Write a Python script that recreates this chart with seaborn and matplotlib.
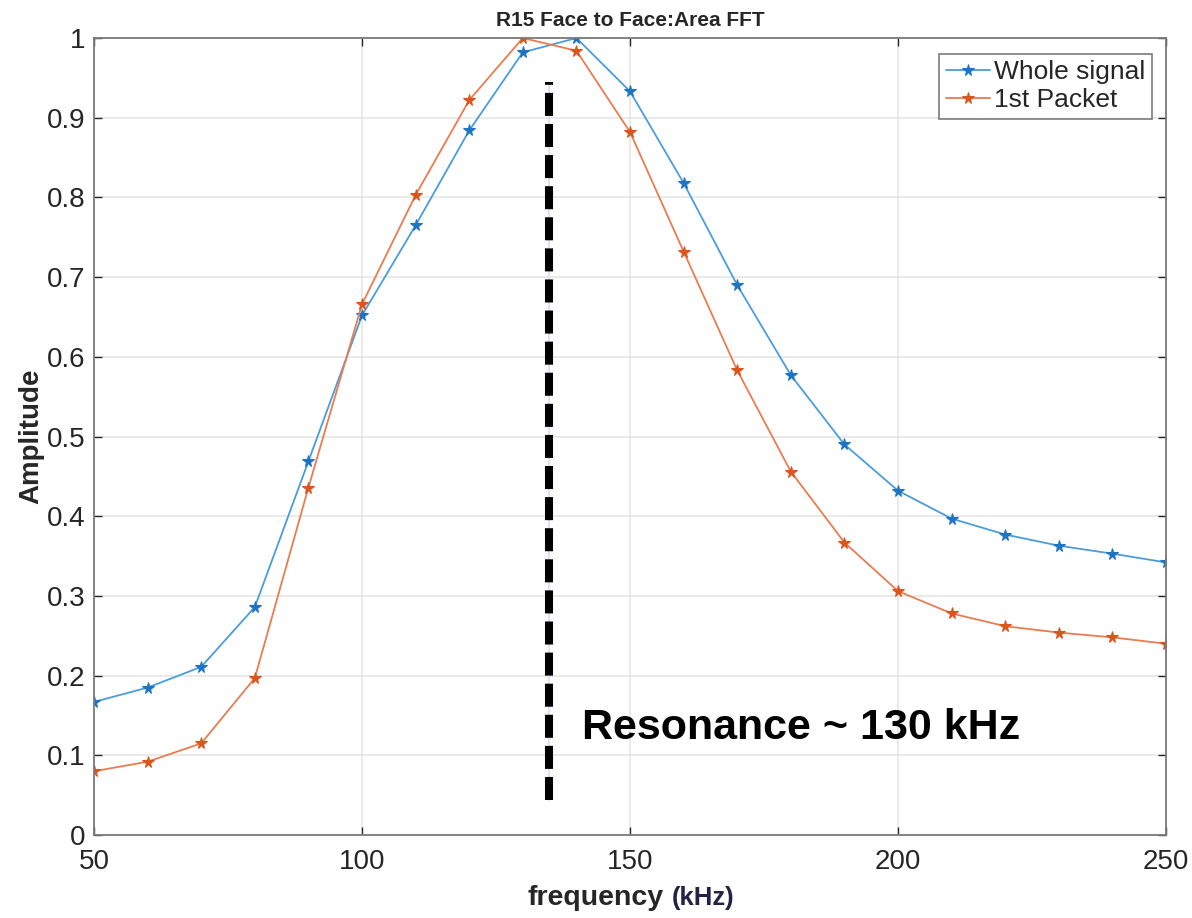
import matplotlib
matplotlib.use("Agg")
import matplotlib.pyplot as plt
import seaborn as sns
import pandas as pd

freq_khz = [50, 60, 70, 80, 90, 100, 110, 120, 130, 140, 150,
            160, 170, 180, 190, 200, 210, 220, 230, 240, 250]
whole_signal = [0.167, 0.185, 0.211, 0.286, 0.469, 0.652, 0.765, 0.884, 0.982, 1.000, 0.933,
                0.818, 0.690, 0.577, 0.490, 0.432, 0.397, 0.377, 0.363, 0.353, 0.342]
first_packet = [0.080, 0.092, 0.115, 0.197, 0.436, 0.666, 0.803, 0.922, 1.000, 0.984, 0.882,
                0.732, 0.583, 0.456, 0.367, 0.306, 0.278, 0.262, 0.254, 0.248, 0.240]
series_names = ["Whole signal", "1st Packet"]
line_colors = ["#4a9ddb", "#e97c50"]
marker_colors = ["#1f74c2", "#d9561f"]
resonance_khz = 134.9

df = pd.DataFrame({"freq": freq_khz, series_names[0]: whole_signal, series_names[1]: first_packet})

sns.set_style("white")
plt.rcParams["font.family"] = ["Liberation Sans", "DejaVu Sans"]

fig = plt.figure(figsize=(11.92, 9.18), dpi=100)
ax = fig.add_axes([0.0789, 0.0904, 0.8993, 0.8682])

for name, lc, mc in zip(series_names, line_colors, marker_colors):
    sns.lineplot(data=df, x="freq", y=name, color=lc, label=name,
                 marker="*", markersize=8.5, markeredgewidth=0.8,
                 markerfacecolor=mc, markeredgecolor=mc, linewidth=1.3, ax=ax)

# resonance marker line
ax.plot([resonance_khz, resonance_khz], [0.044, 0.945], color="#e6dcff", linewidth=1.5, zorder=3)
ax.plot([resonance_khz, resonance_khz], [0.044, 0.945], color="black", linewidth=5.8,
        linestyle=(0, (2.86, 1.0)), solid_capstyle="butt", zorder=4)
ax.text(141, 0.134, "Resonance ~ 130 kHz", fontsize=31, fontweight="bold",
        ha="left", va="center", color="black")

ax.set_xlim(50, 250)
ax.set_ylim(0, 1)
ax.set_xticks([50, 100, 150, 200, 250])
ax.set_yticks([i / 10 for i in range(11)])
ax.set_yticklabels(["0", "0.1", "0.2", "0.3", "0.4", "0.5", "0.6", "0.7", "0.8", "0.9", "1"])
ax.grid(True, color="#e6e6e6", linewidth=1.2)
ax.tick_params(axis="both", labelsize=20, colors="#262626", direction="in",
               length=6, width=1, left=True, bottom=True, top=True, right=True)
ax.tick_params(axis="y", pad=6)
ax.tick_params(axis="x", pad=10)
for s in ax.spines.values():
    s.set_color("#7a7a7a")
    s.set_linewidth(1.3)

ax.set_title("R15 Face to Face:Area FFT", fontsize=15, fontweight="bold", pad=9)
ax.set_xlabel("frequency", fontsize=20.5, fontweight="bold", va="baseline")
ax.xaxis.set_label_coords(0.468, -0.088)
ax.text(0.539, -0.088, "(kHz)", transform=ax.transAxes, fontsize=18.5, fontweight="bold",
        ha="left", va="baseline", color="#222244")
ax.set_ylabel("Amplitude", fontsize=20, fontweight="bold", labelpad=2)

leg = ax.legend(loc="upper right", fontsize=19, frameon=True, fancybox=False,
                borderpad=0.25, handlelength=1.7, handletextpad=0.15, labelspacing=0.15,
                bbox_to_anchor=(0.9995, 0.997))
leg.get_frame().set_edgecolor("#5a5a5a")
leg.get_frame().set_linewidth(1.2)

fig.savefig("out.png", dpi=100)
plt.close(fig)
